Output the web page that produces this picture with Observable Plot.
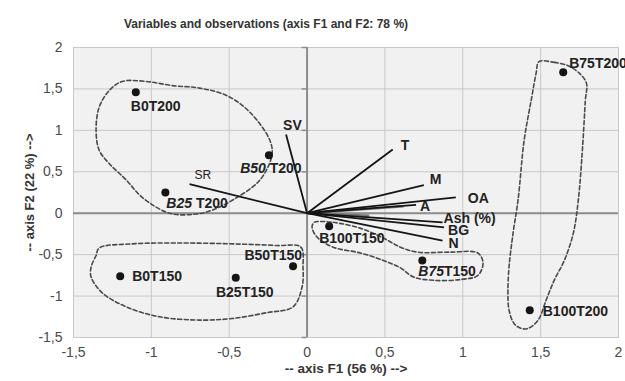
<!DOCTYPE html>
<html><head><meta charset="utf-8">
<script src="https://cdn.jsdelivr.net/npm/d3@7"></script>
<script src="https://cdn.jsdelivr.net/npm/@observablehq/plot@0.6"></script>
<style>
body{margin:0;background:#fff;font-family:"Liberation Sans",Arial,sans-serif;}
#wrap{position:relative;width:625px;height:381px;}
#title{position:absolute;top:17px;left:0;width:532px;text-align:center;font-weight:bold;font-size:12px;color:#333;line-height:15px;}
</style></head><body><div id="wrap"><div id="title">Variables and observations (axis F1 and F2: 78 %)</div></div>
<script>
// ---- data ----
const obsNames = ["B0T200","B50 T200","B25 T200","B0T150","B25T150","B50T150","B100T150","B75T150","B100T200","B75T200"];
const obsF1 = [-1.10, -0.245, -0.91, -1.20, -0.458, -0.09, 0.142, 0.74, 1.43, 1.645];
const obsF2 = [1.46, 0.70, 0.25, -0.76, -0.78, -0.64, -0.156, -0.57, -1.17, 1.70];

const varNames = ["SV","SR","T","M","OA","A","Ash (%)","BG","N"];
const varF1 = [-0.135, -0.755, 0.55, 0.75, 0.955, 0.70, 0.87, 0.88, 0.87];
const varF2 = [0.95, 0.35, 0.77, 0.34, 0.19, 0.10, -0.11, -0.17, -0.33];
// unlabelled short vectors hidden in the bundle near the F1 axis
const hiddenF1 = [0.62, 0.40];
const hiddenF2 = [0.085, -0.03];

const xTicks = [-1.5, -1, -0.5, 0, 0.5, 1, 1.5, 2];
const yTicks = [-1.5, -1, -0.5, 0, 0.5, 1, 1.5, 2];

// dashed group outlines (F1, F2)
const groupTop = [[-1.187,1.59],[-1.032,1.59],[-0.865,1.54],[-0.69,1.51],[-0.516,1.42],[-0.368,1.22],[-0.239,0.88],[-0.226,0.70],[-0.303,0.40],[-0.477,0.16],[-0.606,0.04],[-0.71,-0.01],[-0.884,0.0],[-1.058,0.19],[-1.161,0.40],[-1.271,0.60],[-1.335,0.76],[-1.355,1.0],[-1.335,1.28],[-1.271,1.48]];
const groupBottom = [[-1.335,-0.42],[-1.123,-0.37],[-0.8,-0.36],[-0.477,-0.37],[-0.194,-0.39],[-0.04,-0.41],[-0.026,-0.65],[-0.032,-0.89],[-0.09,-1.13],[-0.258,-1.20],[-0.477,-1.27],[-0.69,-1.29],[-0.948,-1.25],[-1.161,-1.13],[-1.316,-0.96],[-1.387,-0.77],[-1.387,-0.65],[-1.355,-0.51]];
const groupMid = [[0.084,-0.10],[0.168,-0.11],[0.34,-0.18],[0.49,-0.30],[0.60,-0.41],[0.71,-0.47],[0.92,-0.47],[1.097,-0.48],[1.13,-0.60],[1.097,-0.75],[0.987,-0.80],[0.813,-0.81],[0.684,-0.77],[0.60,-0.66],[0.49,-0.57],[0.342,-0.48],[0.168,-0.41],[0.065,-0.29],[0.032,-0.17],[0.045,-0.11]];
const groupRight = [[1.49,1.83],[1.587,1.82],[1.677,1.78],[1.748,1.69],[1.794,1.57],[1.787,1.36],[1.768,0.76],[1.742,0.16],[1.71,-0.24],[1.652,-0.57],[1.587,-0.81],[1.535,-1.05],[1.484,-1.29],[1.42,-1.39],[1.374,-1.39],[1.329,-1.33],[1.297,-1.17],[1.29,-0.96],[1.297,-0.65],[1.323,-0.24],[1.355,0.16],[1.394,0.88],[1.439,1.36],[1.471,1.69]];

// ---- layout (label placement) ----
const obsLabelPos = {
  "B0T200":[ "start",-5,14], "B50 T200":["middle",2,13], "B25 T200":["start",1,11],
  "B0T150":["start",12,0], "B25T150":["middle",9,15], "B50T150":["end",9,-11],
  "B100T150":["start",-10,12], "B75T150":["start",-4,11], "B100T200":["start",13,1], "B75T200":["start",6,-9]
};
const italicPrefix = {"B50 T200":"B50","B25 T200":"B25","B75T150":"B75"};
const varLabelPos = {
  "SV":["start",-3,-9], "SR":["start",5,-9], "T":["start",8,-4], "M":["start",6,-6], "OA":["start",12,1],
  "A":["start",4,2], "Ash (%)":["start",1,-4], "BG":["start",4,3], "N":["start",6,3]
};

const obs = obsNames.map((n,i)=>({name:n, x:obsF1[i], y:obsF2[i]}));
const vars = varNames.map((n,i)=>({name:n, x:varF1[i], y:varF2[i]}));
const hidden = hiddenF1.map((x,i)=>({x, y:hiddenF2[i]}));
const outlines = [groupTop, groupBottom, groupMid, groupRight].flatMap((g,k)=>g.map(([x,y])=>({g:k,x,y})));

const fmt = d => String(d).replace(".", ",");
const font = "Liberation Sans, Arial, sans-serif";

const marks = [
  Plot.frame({fill:"#f1f1f1", stroke:"#c8c8c8"}),
  Plot.gridX(xTicks, {stroke:"#c8c8c8", strokeOpacity:1}),
  Plot.gridY(yTicks, {stroke:"#c8c8c8", strokeOpacity:1}),
  Plot.ruleX([0], {stroke:"#8c8c8c", strokeWidth:2}),
  Plot.ruleY([0], {stroke:"#8c8c8c", strokeWidth:2}),
  Plot.ruleY(yTicks, {x1:0, x2:0, insetLeft:-5, stroke:"#8c8c8c", strokeWidth:1.5}),
  Plot.axisX(xTicks, {tickSize:0, tickPadding:10, fontSize:14, fill:"#4a4a4a", tickFormat:fmt, label:null}),
  Plot.axisY(yTicks, {tickSize:0, tickPadding:11, fontSize:14, fill:"#4a4a4a", tickFormat:fmt, label:null}),
  Plot.text(["-- axis F1 (56 %) -->"], {frameAnchor:"bottom", dy:35, fontSize:13.5, fontWeight:"bold", fill:"#333"}),
  Plot.text(["-- axis F2 (22 %) -->"], {frameAnchor:"left", textAnchor:"middle", dx:-44, rotate:-90, fontSize:13, fontWeight:"bold", fill:"#333"}),
  Plot.line(outlines, {x:"x", y:"y", z:"g", curve:"catmull-rom-closed", stroke:"#4a4a4a", strokeWidth:1.6, strokeDasharray:"4,2.5"}),
  Plot.link(hidden, {x1:0, y1:0, x2:"x", y2:"y", stroke:"#777", strokeWidth:2.5}),
  Plot.link(vars, {x1:0, y1:0, x2:"x", y2:"y", stroke:"#151515", strokeWidth:1.8}),
  Plot.dot(obs, {x:"x", y:"y", r:4, fill:"#151515"}),
  ...obs.map(d => { const [a,dx,dy] = obsLabelPos[d.name];
    return Plot.text([d], {x:"x", y:"y", text:"name", textAnchor:a, dx, dy, fontSize:14, fontWeight:"bold", fill:"#222", className:"obs"}); }),
  ...vars.map(d => { const [a,dx,dy] = varLabelPos[d.name];
    return Plot.text([d], {x:"x", y:"y", text:"name", textAnchor:a, dx, dy,
      fontSize: d.name==="SR" ? 12 : 14, fontWeight: d.name==="SR" ? "normal" : "bold", fill:"#222"}); })
];

const chart = Plot.plot({
  width:625, height:381, marginTop:47, marginLeft:73, marginRight:7, marginBottom:44,
  style:{fontFamily:font, background:"white"},
  x:{domain:[-1.5,2]}, y:{domain:[-1.5,2]},
  marks
});

// mixed italic prefixes in some observation labels
chart.querySelectorAll(".obs text").forEach(t => {
  const s = t.textContent, p = italicPrefix[s];
  if (p) {
    t.textContent = "";
    const a = document.createElementNS("http://www.w3.org/2000/svg","tspan");
    a.setAttribute("font-style","italic"); a.textContent = p;
    const b = document.createElementNS("http://www.w3.org/2000/svg","tspan");
    b.textContent = s.slice(p.length);
    t.append(a, b);
  }
});

const wrap = document.getElementById("wrap");
wrap.insertBefore(chart, wrap.firstChild);
</script></body></html>
